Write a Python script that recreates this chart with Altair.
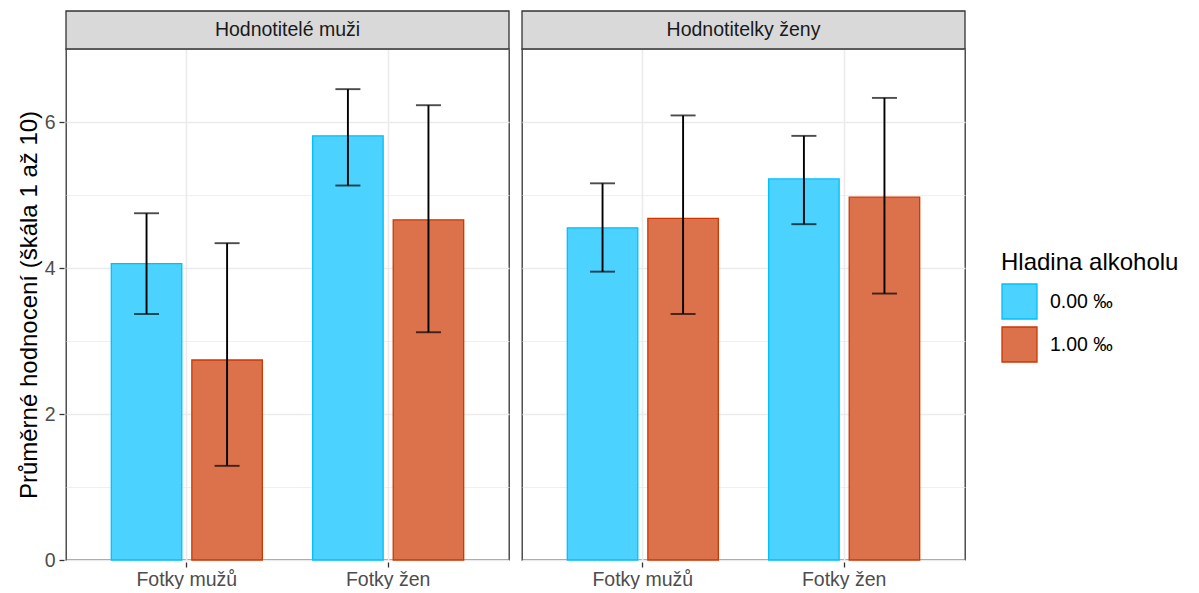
import altair as alt
import pandas as pd

panels = ["Hodnotitelé muži"] * 4 + ["Hodnotitelky ženy"] * 4
photos = ["Fotky mužů", "Fotky mužů", "Fotky žen", "Fotky žen"] * 2
alcohol = ["0.00 ‰", "1.00 ‰"] * 4
means = [4.06, 2.74, 5.81, 4.66, 4.55, 4.68, 5.22, 4.97]
lower = [3.37, 1.29, 5.13, 3.12, 3.95, 3.37, 4.60, 3.65]
upper = [4.75, 4.34, 6.45, 6.23, 5.16, 6.09, 5.81, 6.33]

panel_order = ["Hodnotitelé muži", "Hodnotitelky ženy"]
alc_levels = ["0.00 ‰", "1.00 ‰"]
fill_colors = ["#4CD2FF", "#DB724C"]
stroke_colors = ["#00BFFF", "#CD3700"]
y_ticks = [0, 1, 2, 3, 4, 5, 6, 7]

df = pd.DataFrame(dict(panel=panels, photo=photos, alcohol=alcohol,
                       mean=means, lo=lower, hi=upper))

W, H = 443, 511
FONT = "Liberation Sans"
YTITLE = "Průměrné hodnocení (škála 1 až 10)"

cond_grid_w = {"condition": {"test": "datum.value % 2 === 0", "value": 1.6}, "value": 0.8}
cond_tick_op = {"condition": {"test": "datum.value % 2 === 0", "value": 1}, "value": 0}

x_enc = alt.X("photo:N", title=None,
              scale=alt.Scale(paddingInner=0.2, paddingOuter=0.2),
              axis=alt.Axis(labelAngle=0, grid=True, bandPosition=0.5,
                            gridColor="#EBEBEB", gridWidth=1.6,
                            domain=False, tickColor="#333333", tickWidth=1.3,
                            tickSize=5, labelFontSize=19.5, labelColor="#4D4D4D",
                            labelPadding=3, labelFont=FONT))
xoff = alt.XOffset("alcohol:N", sort=alc_levels,
                   scale=alt.Scale(paddingInner=0.125, paddingOuter=0.0625))
y_scale = alt.Scale(domain=[0, 7], nice=False, zero=True)
y_axis = alt.Axis(values=y_ticks, format="d",
                  labelExpr="datum.value % 2 === 0 ? datum.label : ''",
                  grid=True, gridColor="#EBEBEB", gridWidth=cond_grid_w,
                  tickOpacity=cond_tick_op, domain=False, tickColor="#333333",
                  tickWidth=1.3, tickSize=5, labelFontSize=19.5, labelColor="#4D4D4D",
                  labelPadding=4, labelFont=FONT, titleFontSize=24, titleFont=FONT,
                  titleFontWeight="normal", titleColor="#000000", titlePadding=3)

base = alt.Chart(df)

bars = base.mark_bar(strokeWidth=1.3).encode(
    x=x_enc, xOffset=xoff,
    y=alt.Y("mean:Q", title=YTITLE, scale=y_scale, axis=y_axis),
    fill=alt.Fill("alcohol:N", title="Hladina alkoholu",
                  scale=alt.Scale(domain=alc_levels, range=fill_colors)),
    stroke=alt.Stroke("alcohol:N", title="Hladina alkoholu",
                      scale=alt.Scale(domain=alc_levels, range=stroke_colors)),
)

rules = base.mark_rule(color="black", strokeWidth=1.9).encode(
    x=x_enc, xOffset=xoff,
    y=alt.Y("lo:Q", title=YTITLE, scale=y_scale), y2="hi:Q")

cap_lo = base.mark_tick(color="black", thickness=1.9, size=25).encode(
    x=x_enc, xOffset=xoff, y=alt.Y("lo:Q", title=YTITLE, scale=y_scale))
cap_hi = base.mark_tick(color="black", thickness=1.9, size=25).encode(
    x=x_enc, xOffset=xoff, y=alt.Y("hi:Q", title=YTITLE, scale=y_scale))

first = "datum.photo === 'Fotky mužů' && datum.alcohol === '0.00 ‰'"
strip_rect = base.transform_filter(first).mark_rect(
    fill="#D9D9D9", stroke="#333333", strokeWidth=1.3).encode(
    x=alt.value(0), x2=alt.value(W), y=alt.value(-38), y2=alt.value(0))
strip_text = base.transform_filter(first).mark_text(
    fontSize=19.5, color="#1A1A1A", font=FONT, baseline="middle", align="center").encode(
    text="panel:N", x=alt.value(W / 2), y=alt.value(-19))

layered = alt.layer(bars, rules, cap_lo, cap_hi, strip_rect, strip_text).properties(
    width=W, height=H)

chart = layered.facet(
    column=alt.Facet("panel:N", sort=panel_order,
                     header=alt.Header(labels=False, title=None, labelPadding=0, titlePadding=0)),
    spacing=9,
).configure_view(
    stroke="#333333", strokeWidth=1.3
).configure_legend(
    orient="none", legendX=935, legendY=202,
    titleFontSize=24, titleFont=FONT, titleFontWeight="normal", titleColor="#000000",
    labelFontSize=19.5, labelFont=FONT, labelColor="#000000",
    symbolType="square", symbolSize=1225, symbolStrokeWidth=1.3,
    labelOffset=12, rowPadding=2, titlePadding=8
).properties(
    padding={"left": 9, "top": 1, "right": 0, "bottom": 0}
)

chart.save("out.html", embed_options={"renderer": "svg", "actions": False})
